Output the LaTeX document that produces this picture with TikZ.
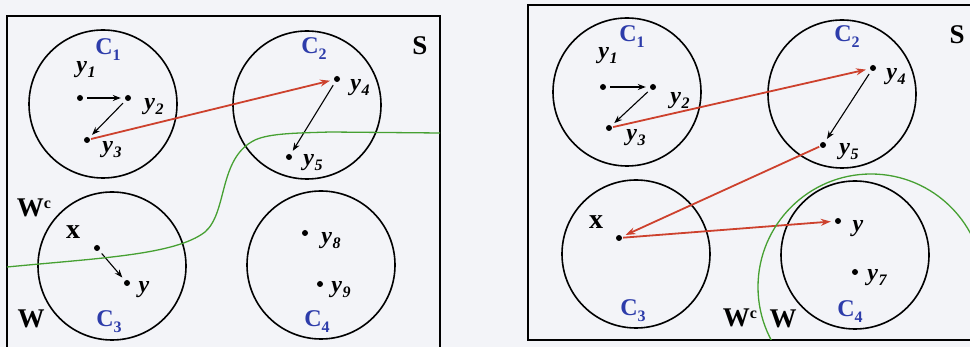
\documentclass[tikz,border=0pt]{standalone}
\usepackage{fontspec}
\setmainfont{Liberation Serif}
\usepackage{xcolor}
\usepackage{tikz}
\usetikzlibrary{arrows.meta}
\definecolor{paper}{RGB}{243,244,248}
\definecolor{linkred}{RGB}{205,65,45}
\definecolor{clusterblue}{RGB}{45,60,170}
\definecolor{cutgreen}{RGB}{70,160,50}
\newcommand{\ylab}[1]{\textbf{\textit{y\kern0.5pt\raisebox{-5pt}{\fontsize{16}{16}\selectfont#1}}}}
\newcommand{\clab}[1]{\textcolor{clusterblue}{\textbf{C\raisebox{-6pt}{\fontsize{16}{16}\selectfont#1}}}}
\newcommand{\wclab}{\textbf{W\raisebox{8pt}{\fontsize{16}{16}\selectfont c}}}

\begin{document}
\begin{tikzpicture}[x=1pt,y=-1pt,font=\fontsize{24}{28}\selectfont,
  pt/.style={circle,fill,inner sep=0pt,minimum size=6pt},
  cluster/.style={circle,draw,line width=1.6pt,minimum size=148pt,inner sep=0pt},
  big/.style={font=\fontsize{27}{30}\selectfont\bfseries},
  move/.style={-{Stealth[length=8pt,width=6pt]},line width=1.1pt,shorten >=4pt,shorten <=4pt},
  jump/.style={linkred,line width=1.8pt,-{Stealth[length=10pt,width=7pt]},shorten >=4pt,shorten <=1pt}]
  \fill[paper] (0,0) rectangle (970,347);
  \useasboundingbox (0,0) rectangle (970,347);
  \draw[line width=1.6pt] (7,352) -- (7,16) -- (440,16) -- (440,352);
  \draw[line width=1.6pt] (975,5) -- (528,5) -- (528,340) -- (975,340);

  \node[cluster] (lc1) at (103,104) {};
  \node[cluster] (lc2) at (307,105) {};
  \node[cluster] (lc3) at (112,266) {};
  \node[cluster] (lc4) at (321,265) {};
  \node at (108,50) {\clab{1}};
  \node at (314,49) {\clab{2}};
  \node at (109,322) {\clab{3}};
  \node at (317,322) {\clab{4}};
  \node[big] at (420,46) {S};
  \node[big] at (34,208) {\wclab};
  \node[big] at (31,319) {W};

  \node[pt] (ly1) at (80,98) {};
  \node[pt] (ly2) at (128,98) {};
  \node[pt] (ly3) at (87,140) {};
  \node[pt] (ly4) at (337,79) {};
  \node[pt] (ly5) at (289,157) {};
  \node[pt] (lx) at (97,248) {};
  \node[pt] (ly) at (127,283) {};
  \node[pt] (ly8) at (305,233) {};
  \node[pt] (ly9) at (320,284) {};
  \node at (86,70) {\ylab{1}};
  \node at (154,107) {\ylab{2}};
  \node at (112,150) {\ylab{3}};
  \node at (360,88) {\ylab{4}};
  \node at (313,163) {\ylab{5}};
  \node[font=\fontsize{28}{28}\selectfont\bfseries] at (73,232) {x};
  \node at (144,290) {\textbf{\textit{y}}};
  \node at (331,241) {\ylab{8}};
  \node at (341,290) {\ylab{9}};

  \draw[move] (ly1) -- (ly2);
  \draw[move] (ly2) -- (ly3);
  \draw[move] (ly4) -- (ly5);
  \draw[move] (lx) -- (ly);
  \draw[jump] (ly3) -- (ly4);
  \draw[cutgreen,line width=1.3pt] (7,267) .. controls (100,258) and (175,255) .. (205,232)
    .. controls (228,212) and (218,158) .. (255,140) .. controls (270,133) and (300,133) .. (330,132) -- (440,133);

  \node[cluster] (rc1) at (627,92) {};
  \node[cluster] (rc2) at (842,94) {};
  \node[cluster] (rc3) at (636,254) {};
  \node[cluster] (rc4) at (855,255) {};
  \node at (632,37) {\clab{1}};
  \node at (847,37) {\clab{2}};
  \node at (633,311) {\clab{3}};
  \node at (850,312) {\clab{4}};
  \node[big] at (957,35) {S};
  \node[big] at (740,318) {\wclab};
  \node[big] at (783,319) {W};

  \node[pt] (ry1) at (603,87) {};
  \node[pt] (ry2) at (653,87) {};
  \node[pt] (ry3) at (609,128) {};
  \node[pt] (ry4) at (873,68) {};
  \node[pt] (ry5) at (823,145) {};
  \node[pt] (rx) at (619,238) {};
  \node[pt] (ry) at (838,221) {};
  \node[pt] (ry7) at (855,272) {};
  \node at (608,56) {\ylab{1}};
  \node at (680,101) {\ylab{2}};
  \node at (636,138) {\ylab{3}};
  \node at (896,77) {\ylab{4}};
  \node at (849,152) {\ylab{5}};
  \node[font=\fontsize{28}{28}\selectfont\bfseries] at (596,222) {x};
  \node at (858,229) {\textbf{\textit{y}}};
  \node at (877,278) {\ylab{7}};

  \draw[move] (ry1) -- (ry2);
  \draw[move] (ry2) -- (ry3);
  \draw[move] (ry4) -- (ry5);
  \draw[jump] (ry3) -- (ry4);
  \draw[jump] (ry5) -- (rx);
  \draw[jump] (rx) -- (ry);
  \begin{scope}
    \clip (528,5) rectangle (970,340);
    \draw[cutgreen,line width=1.3pt] (871,287) circle (113);
  \end{scope}
\end{tikzpicture}
\end{document}
